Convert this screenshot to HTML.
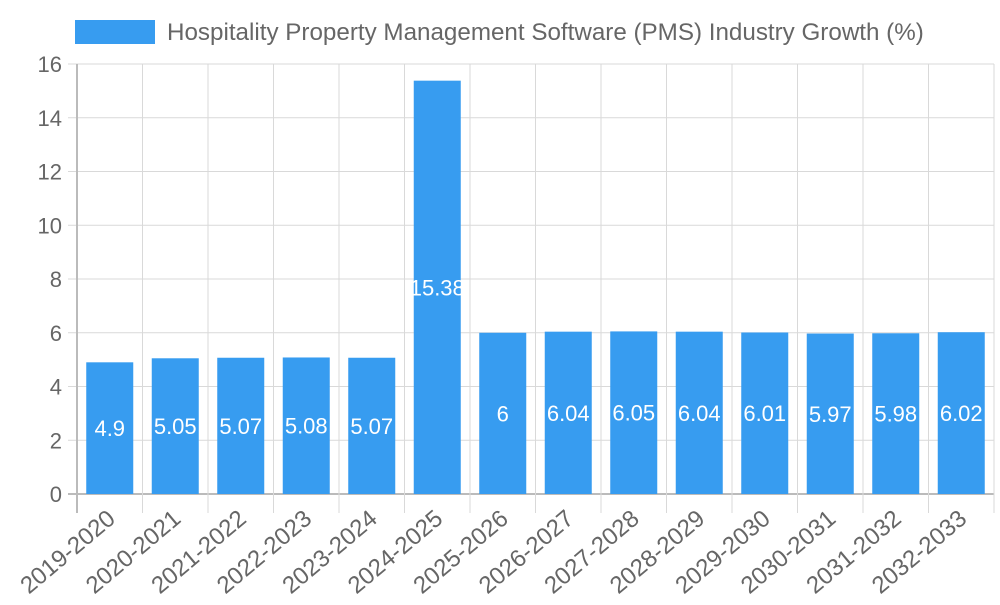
<!DOCTYPE html>
<html><head><meta charset="utf-8"><style>
body{margin:0;background:#fff;}
svg{font-family:"Liberation Sans",sans-serif;}
</style></head><body>
<svg width="1000" height="600">
<g>
<rect x="75" y="20" width="80" height="24" fill="#379cf0"/>
<text x="167" y="40" font-size="24.2" fill="#666">Hospitality Property Management Software (PMS) Industry Growth (%)</text>
</g>
<g id="grid"></g>
<g id="bars"></g>
<g id="labels"></g>
<g id="axes"></g>
</svg>
<script>
const categories=["2019-2020","2020-2021","2021-2022","2022-2023","2023-2024","2024-2025","2025-2026","2026-2027","2027-2028","2028-2029","2029-2030","2030-2031","2031-2032","2032-2033"];
const values=[4.9,5.05,5.07,5.08,5.07,15.38,6,6.04,6.05,6.04,6.01,5.97,5.98,6.02];
const yTicks=[0,2,4,6,8,10,12,14,16];
const NS="http://www.w3.org/2000/svg";
const L=77,R=994,T=64,B=494,yMax=16;
const bw=(R-L)/categories.length;
function y(v){return B-(B-T)*v/yMax;}
function xc(i){return L+bw*(i+0.5);}
function mk(t,a,p){const e=document.createElementNS(NS,t);for(const k in a)e.setAttribute(k,a[k]);p.appendChild(e);return e;}
const grid=document.getElementById('grid'),bars=document.getElementById('bars'),labels=document.getElementById('labels'),axes=document.getElementById('axes');
yTicks.forEach(t=>{
 const l=mk('line',{x1:L-9,x2:R,y1:y(t),y2:y(t),stroke:t===0?'#bbb':'#d9d9d9','stroke-width':t===0?2:1},grid);
 
 
 const tx=mk('text',{x:L-15,y:y(t)+8,'text-anchor':'end','font-size':22,fill:'#666'},axes);
 tx.textContent=t;
 
 
});
for(let i=0;i<=categories.length;i++){
 const x=L+bw*i;
 const l=mk('line',{x1:x,x2:x,y1:T,y2:B+19,stroke:i===0?'#bbb':'#d9d9d9','stroke-width':i===0?2:1},grid);
 
 
}
categories.forEach((c,i)=>{
 const w=47,v=values[i];
 const r=mk('rect',{x:xc(i)-w/2,y:y(v),width:w,height:B-y(v),fill:'#379cf0'},bars);
 
 
 const t=mk('text',{x:xc(i),y:(y(v)+B)/2+8,'text-anchor':'middle','font-size':22,fill:'#fff'},labels);
 t.textContent=v;
 
 
 const xl=mk('text',{x:xc(i)+7,y:521,'text-anchor':'end','font-size':24,fill:'#666',transform:`rotate(-40 ${xc(i)+7} 521)`},axes);
 xl.textContent=c;
 
 
});
</script>
</body></html>
